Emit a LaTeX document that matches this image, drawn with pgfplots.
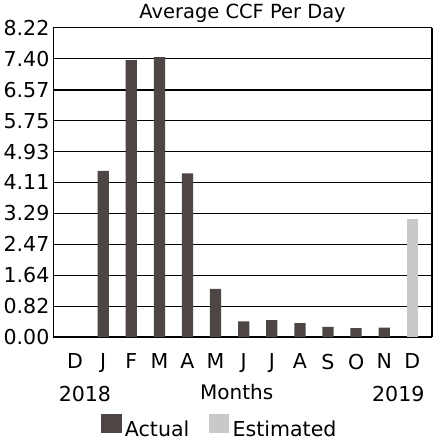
\documentclass[border=0pt]{standalone}
\usepackage{pgfplots}
\pgfplotsset{compat=1.18}
\usepackage{fontspec}
\setmainfont{DejaVu Sans}
\definecolor{actualc}{HTML}{4D4644}
\definecolor{estc}{HTML}{C9C9C9}
\begin{document}
\begin{tikzpicture}
\begin{axis}[
  width=349bp, height=285bp, scale only axis,
  ymin=0, ymax=8.22,
  ytick={0,0.82,1.64,2.47,3.29,4.11,4.93,5.75,6.57,7.40,8.22},
  yticklabels={0.00,0.82,1.64,2.47,3.29,4.11,4.93,5.75,6.57,7.40,8.22},
  xmin=-0.78, xmax=12.7,
  xtick={0,...,12},
  xticklabels={D,J,F,M,A,M,J,J,A,S,O,N,D},
  major tick length=0pt,
  ymajorgrids,
  grid style={black, line width=1.2pt},
  axis line style={black, line width=1.2pt},
  axis x line*=bottom,
  axis y line*=left,
  ticklabel style={font=\fontsize{19}{21}\selectfont},
  xticklabel style={yshift=-12pt},
  title={Average CCF Per Day},
  title style={font=\fontsize{18}{20}\selectfont, at={(0.5,1)}, anchor=base, yshift=3pt},
  legend style={at={(0.44,-0.29)}, anchor=center, draw=none, legend columns=2,
    font=\fontsize{19}{21}\selectfont, column sep=1pt,
    /tikz/every even column/.append style={column sep=16pt}},
  legend image code/.code={\fill[#1] (0bp,-4bp) rectangle (19bp,14bp);},
  clip=false,
]
\draw[line width=1.2pt] (rel axis cs:1,0) -- (rel axis cs:1,1);
\addplot[ybar, bar width=0.4, bar shift=0pt, fill=actualc, draw=none] coordinates {
  (0,0) (1,4.42) (2,7.36) (3,7.44) (4,4.35) (5,1.28) (6,0.42) (7,0.45) (8,0.37) (9,0.27) (10,0.24) (11,0.25)
};
\addlegendentry{Actual}
\addplot[ybar, bar width=0.4, bar shift=0pt, fill=estc, draw=none] coordinates {
  (12,3.15)
};
\addlegendentry{Estimated}
\node[font=\fontsize{19}{21}\selectfont, anchor=center] at (axis cs:0.35,-1.52) {2018};
\node[font=\fontsize{18.5}{21}\selectfont, anchor=center] at (axis cs:5.75,-1.45) {Months};
\node[font=\fontsize{19}{21}\selectfont, anchor=center] at (axis cs:11.5,-1.52) {2019};
\end{axis}
\end{tikzpicture}
\end{document}
